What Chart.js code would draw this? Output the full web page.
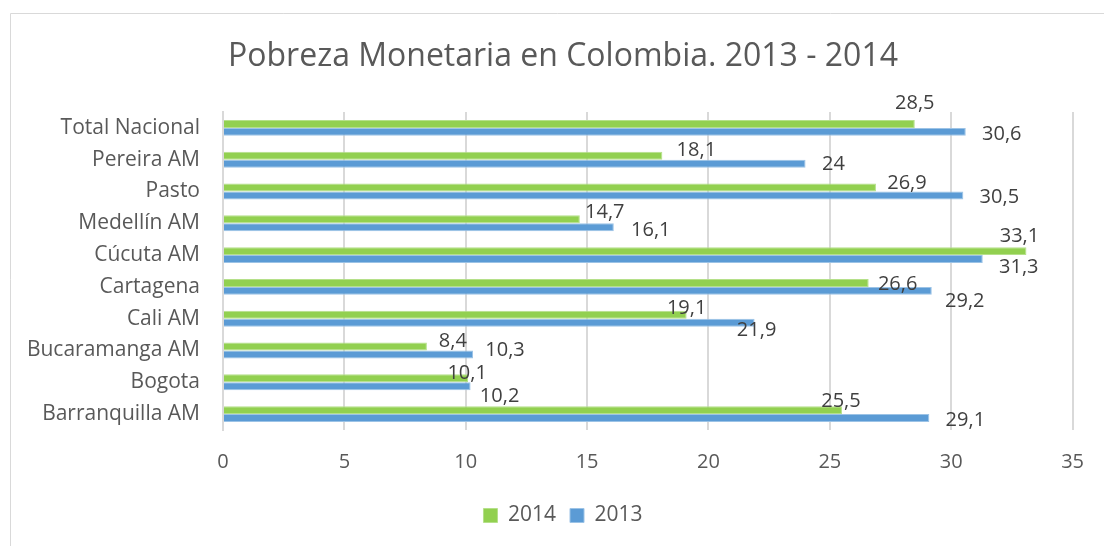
<!DOCTYPE html>
<html>
<head>
<meta charset="utf-8">
<script src="https://cdn.jsdelivr.net/npm/chart.js@4/dist/chart.umd.min.js"></script>
<style>
  html, body { margin: 0; padding: 0; background: #fff; }
  #wrap { width: 1104px; height: 546px; }
</style>
</head>
<body>
<div id="wrap"><canvas id="pobreza" width="1104" height="546"></canvas></div>
<script>
const ciudades = ['Total Nacional', 'Pereira AM', 'Pasto', 'Medellín AM', 'Cúcuta AM',
  'Cartagena', 'Cali AM', 'Bucaramanga AM', 'Bogota', 'Barranquilla AM'];
const pobreza2014 = [28.5, 18.1, 26.9, 14.7, 33.1, 26.6, 19.1, 8.4, 10.1, 25.5];
const pobreza2013 = [30.6, 24, 30.5, 16.1, 31.3, 29.2, 21.9, 10.3, 10.2, 29.1];
const ejeTicks = [0, 5, 10, 15, 20, 25, 30, 35];
const titulo = 'Pobreza Monetaria en Colombia. 2013 - 2014';

// where each value label sits, relative to the end of its bar (label centre)
const offsets2014 = [[0, -21], [34, -5], [31, -4], [25, -7], [-7, -15], [29, 1], [0, -6], [26, -5], [-1, -5], [-1, -9]];
const offsets2013 = [[36, 2], [28, 1], [36, 2], [37, 3], [36, 8], [33, 10], [2, 8], [32, -4], [29, 10], [36, 2]];

const verde = '#92D050';
const azul = '#5B9BD5';
const texto = '#595959';
const fuente = "'Open Sans', 'DejaVu Sans', sans-serif";

// frame of the chart box plus the title (centred on the box, not on the canvas)
const marco = {
  id: 'marco',
  afterLayout(chart) {
    // legend is centred on the box too
    chart.legend.left = 52;
  },
  beforeDraw(chart) {
    const ctx = chart.ctx;
    ctx.save();
    ctx.strokeStyle = '#D9D9D9';
    ctx.lineWidth = 1;
    ctx.beginPath();
    ctx.moveTo(10.5, chart.height);
    ctx.lineTo(10.5, 13.5);
    ctx.lineTo(chart.width, 13.5);
    ctx.stroke();
    ctx.font = '32px ' + fuente;
    ctx.fillStyle = texto;
    ctx.textAlign = 'center';
    ctx.textBaseline = 'middle';
    ctx.fillText(titulo, 563, 57);
    ctx.restore();
  }
};

const etiquetas = {
  id: 'etiquetas',
  afterDatasetsDraw(chart) {
    const ctx = chart.ctx;
    ctx.save();
    ctx.font = '20px ' + fuente;
    ctx.fillStyle = '#404040';
    ctx.textAlign = 'center';
    ctx.textBaseline = 'middle';
    chart.data.datasets.forEach((ds, di) => {
      const offs = di === 0 ? offsets2014 : offsets2013;
      chart.getDatasetMeta(di).data.forEach((bar, i) => {
        const txt = String(ds.data[i]).replace('.', ',');
        ctx.fillText(txt, bar.x + offs[i][0], bar.y + offs[i][1]);
      });
    });
    ctx.restore();
  }
};

new Chart(document.getElementById('pobreza'), {
  type: 'bar',
  data: {
    labels: ciudades,
    datasets: [
      { label: '2014', data: pobreza2014, backgroundColor: verde, borderColor: '#B5E08A', borderWidth: 1 },
      { label: '2013', data: pobreza2013, backgroundColor: azul, borderColor: '#9CC3E6', borderWidth: 1 }
    ]
  },
  options: {
    indexAxis: 'y',
    responsive: false,
    animation: false,
    devicePixelRatio: 1,
    categoryPercentage: 0.5,
    barPercentage: 1.0,
    layout: { padding: { top: 112, right: 30, bottom: 10, left: 0 } },
    scales: {
      x: {
        min: 0,
        max: 35,
        afterBuildTicks: (axis) => { axis.ticks = ejeTicks.map(v => ({ value: v })); },
        grid: { color: '#D9D9D9', lineWidth: 2, drawTicks: false },
        border: { display: false },
        ticks: { color: texto, font: { family: fuente, size: 20 }, padding: 20 },
        afterFit: (s) => { s.height = 61; }
      },
      y: {
        grid: { display: false },
        border: { color: '#D9D9D9', width: 2 },
        ticks: { color: texto, font: { family: fuente, size: 21 }, padding: 15 },
        afterFit: (s) => { s.width = 223; }
      }
    },
    plugins: {
      title: { display: false },
      legend: {
        position: 'bottom',
        labels: {
          color: texto,
          font: { family: fuente, size: 21 },
          boxWidth: 14,
          boxHeight: 14,
          padding: 14
        }
      },
      tooltip: { enabled: false }
    }
  },
  plugins: [marco, etiquetas]
});
</script>
</body>
</html>
